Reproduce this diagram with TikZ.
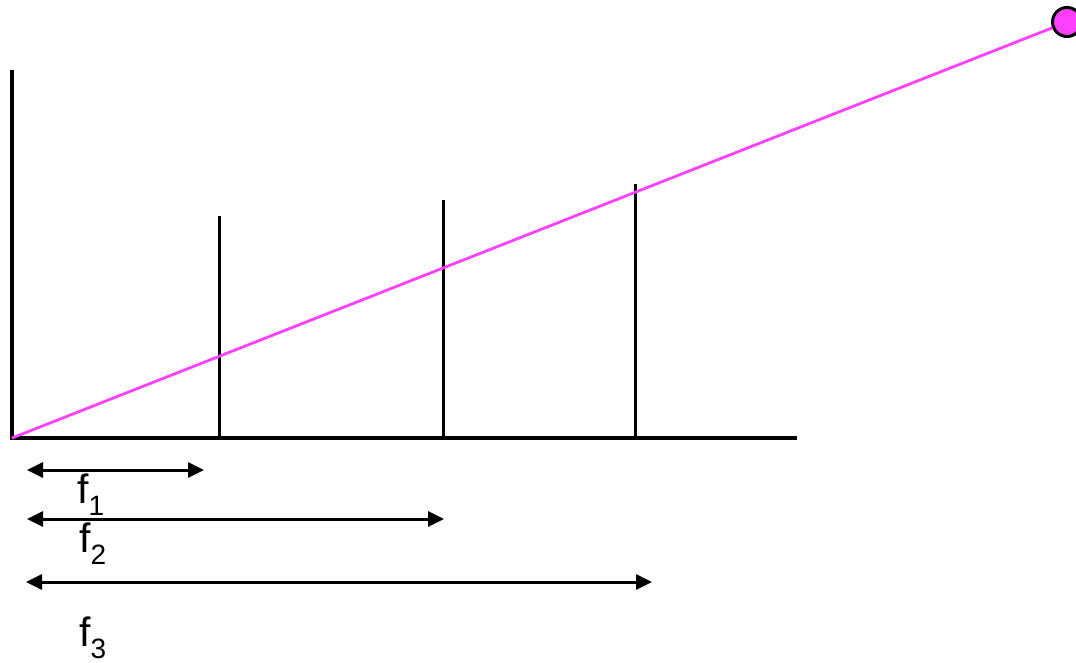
\documentclass[tikz,border=0pt]{standalone}
\usepackage{fontspec}
\setmainfont{Liberation Sans}
\usetikzlibrary{arrows.meta}
\definecolor{mag}{RGB}{255,64,255}
\begin{document}
\begin{tikzpicture}[x=1pt,y=-1pt,
  axis/.style={line width=3.2pt, line cap=rect},
  tick/.style={line width=3pt},
  dim/.style={line width=3pt, {Triangle[length=16pt,width=15pt]}-{Triangle[length=16pt,width=15pt]}},
  lbl/.style={anchor=base west, inner sep=0pt, font=\fontsize{41}{41}\selectfont},
  dot/.style={circle, draw=black, line width=3pt, fill=mag, minimum size=29pt, inner sep=0pt}]
\useasboundingbox (0,0) rectangle (1076,663);
% axes
\coordinate (O) at (12,438);
\coordinate (Ytop) at (12,72);
\coordinate (Xend) at (795,438);
\draw[axis] (Ytop) -- (O) -- (Xend);
% vertical bars
\coordinate (b1b) at (219,438); \coordinate (b1t) at (219,216);
\coordinate (b2b) at (443,438); \coordinate (b2t) at (443,200);
\coordinate (b3b) at (635,438); \coordinate (b3t) at (635,184);
\draw[tick] (b1b) -- (b1t);
\draw[tick] (b2b) -- (b2t);
\draw[tick] (b3b) -- (b3t);
% magenta line and dot
\node[dot] (P) at (1067,22) {};
\draw[mag, line width=2.8pt] (O) -- (P);
% dimension arrows
\coordinate (a1l) at (27,470); \coordinate (a1r) at (204,470);
\coordinate (a2l) at (27,519); \coordinate (a2r) at (444,519);
\coordinate (a3l) at (26,582); \coordinate (a3r) at (652,582);
\draw[dim] (a1l) -- (a1r);
\draw[dim] (a2l) -- (a2r);
\draw[dim] (a3l) -- (a3r);
% labels
\newcommand{\flab}[1]{f\raisebox{-12pt}{\fontsize{28}{28}\selectfont #1}}
\node[lbl] (f1) at (77,503) {\flab{1}};
\node[lbl] (f2) at (79,552) {\flab{2}};
\node[lbl] (f3) at (79,646) {\flab{3}};
\end{tikzpicture}
\end{document}
